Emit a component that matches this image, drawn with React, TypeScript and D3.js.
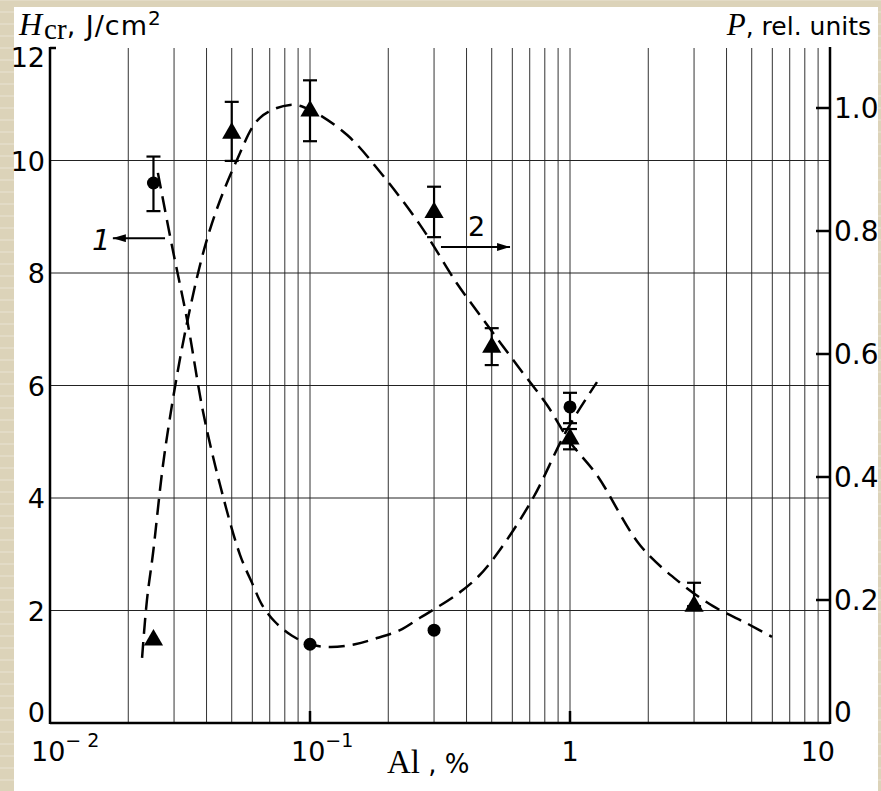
import React, { useEffect } from 'react'
import * as d3 from 'd3'

// curve 1: H_cr (left axis) vs Al content
const curve1Al = [0.026, 0.0294, 0.0337, 0.0388, 0.0451, 0.0538, 0.0604, 0.0654, 0.0733, 0.0853, 0.1, 0.1194, 0.149, 0.181, 0.222, 0.265, 0.297, 0.361, 0.443, 0.538, 0.721, 0.973, 1.27]
const curve1H = [9.78, 8.5, 7.16, 5.53, 4.23, 2.99, 2.45, 2.1, 1.8, 1.55, 1.4, 1.35, 1.4, 1.51, 1.65, 1.87, 2.01, 2.26, 2.6, 3.08, 4.0, 5.21, 6.06]

// curve 2: P (right axis) vs Al content
const curve2Al = [0.0226, 0.0236, 0.0249, 0.0277, 0.0337, 0.0412, 0.0523, 0.0642, 0.0838, 0.1, 0.139, 0.186, 0.265, 0.367, 0.451, 0.625, 0.816, 1.0, 1.27, 1.86, 2.65, 3.55, 4.84, 5.98]
const curve2P = [0.106, 0.2, 0.276, 0.444, 0.652, 0.802, 0.915, 0.984, 1.005, 0.997, 0.956, 0.896, 0.81, 0.715, 0.663, 0.582, 0.517, 0.457, 0.403, 0.289, 0.228, 0.19, 0.161, 0.14]

// measured points, series 1 (circles, H)
const circAl = [0.025, 0.1, 0.3, 1.0]
const circH = [9.6, 1.4, 1.65, 5.62]
const circLo = [9.1, null, null, 5.33]
const circHi = [10.07, null, null, 5.87]

// measured points, series 2 (triangles, P)
const triAl = [0.025, 0.05, 0.1, 0.3, 0.5, 1.0, 3.0]
const triP = [0.135, 0.959, 0.995, 0.83, 0.611, 0.462, 0.19]
const triLo = [null, 0.914, 0.946, 0.79, 0.582, 0.445, null]
const triHi = [null, 1.01, 1.045, 0.872, 0.642, 0.478, 0.228]

const leftTicks = [0, 2, 4, 6, 8, 10, 12]
const rightTicks = [0, 0.2, 0.4, 0.6, 0.8, 1.0]
const rightLabels = ['0', '0.2', '0.4', '0.6', '0.8', '1.0']
const bottomTicks = [0.01, 0.1, 1, 10]
const bottomLabels = [['10', '− 2'], ['10', '−1'], ['1', ''], ['10', '']]

const W = 881
const H = 791
const SANS = '"DejaVu Sans", Arial, sans-serif'
const SERIF = '"Liberation Serif", "Times New Roman", serif'

export default function App() {
  useEffect(() => {
    document.body.style.margin = '0'
  }, [])

  const x = d3.scaleLog().domain([0.01, 10]).range([50, 830])
  const yL = d3.scaleLinear().domain([0, 12]).range([723, 48])
  const yR = d3.scaleLinear().domain([0, 1]).range([723, 108])

  const line1 = d3.line<number>()
    .x((_, i) => x(curve1Al[i]))
    .y(d => yL(d))
    .curve(d3.curveCatmullRom.alpha(0.5))
  const line2 = d3.line<number>()
    .x((_, i) => x(curve2Al[i]))
    .y(d => yR(d))
    .curve(d3.curveCatmullRom.alpha(0.5))

  const vGrid = x.ticks().filter(v => v > 0.01 && v < 10)
  const hGrid = [2, 4, 6, 8, 10]
  const tri = d3.symbol(d3.symbolTriangle, 160)()

  const stripes = d3.range(0, H, 12)

  const errBar = (cx: number, lo: number, hi: number, key: string) => (
    <g key={key} stroke="#000" strokeWidth={2.2}>
      <line x1={cx} x2={cx} y1={lo} y2={hi} />
      <line x1={cx - 7} x2={cx + 7} y1={lo} y2={lo} />
      <line x1={cx - 7} x2={cx + 7} y1={hi} y2={hi} />
    </g>
  )

  return (
    <svg width={W} height={H} style={{ display: 'block' }}>
      <rect width={W} height={H} fill="#dcd3b9" />
      {stripes.map(s => (
        <line key={s} x1={0} x2={W} y1={s} y2={s} stroke="#e9e3d3" strokeWidth={1} />
      ))}
      <rect x={14} y={7} width={864} height={784} fill="#fff" />

      {/* grid */}
      {vGrid.map(v => (
        <line key={'v' + v} x1={x(v)} x2={x(v)} y1={yL(12)} y2={yL(0)} stroke="#333" strokeWidth={1} />
      ))}
      {hGrid.map(v => (
        <line key={'h' + v} x1={x(0.01)} x2={x(10)} y1={yL(v)} y2={yL(v)} stroke="#222" strokeWidth={1} />
      ))}

      {/* axes */}
      <g stroke="#000" strokeWidth={2.5} fill="none">
        <line x1={x(0.01)} x2={x(0.01)} y1={yL(12) - 1} y2={yL(0) + 1} />
        <line x1={x(10)} x2={x(10)} y1={yL(12) - 1} y2={yL(0) + 1} />
        <line x1={x(0.01)} x2={x(10)} y1={yL(0)} y2={yL(0)} />
        <line x1={x(0.01)} x2={x(0.01) + 6} y1={yL(12)} y2={yL(12)} />
        {[0.1, 1].map(v => (
          <line key={v} x1={x(v)} x2={x(v)} y1={yL(0)} y2={yL(0) - 12} />
        ))}
        {rightTicks.filter(v => v > 0).map(v => (
          <line key={'rt' + v} x1={x(10) - 14} x2={x(10)} y1={yR(v)} y2={yR(v)} />
        ))}
      </g>

      {/* tick labels */}
      <g fontFamily={SANS} fontSize={27} fill="#000">
        {leftTicks.map(v => (
          <text key={'l' + v} x={x(0.01) - 5} y={v === 0 ? yL(0) - 1 : v === 12 ? yL(12) + 19 : yL(v) + 10} textAnchor="end">{v}</text>
        ))}
        {rightTicks.map((v, i) => (
          <text key={'r' + v} x={x(10) + 4} y={v === 0 ? yR(0) - 1 : yR(v) + 10} fontSize={28}>{rightLabels[i]}</text>
        ))}
        {bottomTicks.map((v, i) => (
          <text key={'b' + v} x={i === 3 ? x(v) + 5 : x(v) - (bottomLabels[i][1] ? 19 : 0)} y={761} textAnchor={i === 3 ? 'end' : i === 2 ? 'middle' : 'start'}>
            {bottomLabels[i][0]}
            {bottomLabels[i][1] && <tspan dy={-14} fontSize={19}>{bottomLabels[i][1]}</tspan>}
          </text>
        ))}
      </g>

      {/* axis titles */}
      <text x={19} y={35} fill="#000">
        <tspan fontFamily={SERIF} fontStyle="italic" fontSize={32}>H</tspan>
        <tspan fontFamily={SERIF} fontSize={29} dy={4} dx={2}>cr</tspan>
        <tspan fontFamily={SANS} fontSize={27} dy={-4} letterSpacing={1}>, J/cm</tspan>
        <tspan fontFamily={SANS} fontSize={20} dy={-10}>2</tspan>
      </text>
      <text x={871} y={35} textAnchor="end" fill="#000">
        <tspan fontFamily={SERIF} fontStyle="italic" fontSize={31}>P</tspan>
        <tspan fontFamily={SANS} fontSize={25}>, rel. units</tspan>
      </text>
      <text x={387} y={773} fill="#000">
        <tspan fontFamily={SERIF} fontSize={33}>Al</tspan>
        <tspan fontFamily={SANS} fontSize={26}> , %</tspan>
      </text>

      {/* curves */}
      <path d={line1(curve1H) ?? ''} fill="none" stroke="#000" strokeWidth={2.5} strokeDasharray="16 8" />
      <path d={line2(curve2P) ?? ''} fill="none" stroke="#000" strokeWidth={2.5} strokeDasharray="16 8" />

      {/* error bars + markers */}
      {circAl.map((a, i) => circLo[i] != null ? errBar(x(a), yL(circLo[i] as number), yL(circHi[i] as number), 'ce' + i) : null)}
      {triAl.map((a, i) => (triLo[i] != null || triHi[i] != null)
        ? errBar(x(a), yR((triLo[i] ?? triP[i]) as number), yR((triHi[i] ?? triP[i]) as number), 'te' + i) : null)}
      {circAl.map((a, i) => (
        <circle key={'c' + i} cx={x(a)} cy={yL(circH[i])} r={6.5} fill="#000" />
      ))}
      {triAl.map((a, i) => (
        <path key={'t' + i} d={tri ?? ''} transform={`translate(${x(a)},${yR(triP[i])})`} fill="#000" />
      ))}

      {/* annotations */}
      <defs>
        <marker id="arr" viewBox="0 0 13 8" refX={13} refY={4} markerWidth={13} markerHeight={8} markerUnits="userSpaceOnUse" orient="auto">
          <path d="M0,0 L13,4 L0,8 Z" fill="#000" />
        </marker>
      </defs>
      <line x1={x(0.0277)} x2={x(0.01745)} y1={yL(8.62)} y2={yL(8.62)} stroke="#000" strokeWidth={2} markerEnd="url(#arr)" />
      <text x={x(0.0145)} y={yL(8.41)} fontFamily={SANS} fontStyle="italic" fontSize={29}>1</text>
      <line x1={x(0.319)} x2={x(0.588)} y1={yR(0.774)} y2={yR(0.774)} stroke="#000" strokeWidth={2} markerEnd="url(#arr)" />
      <text x={x(0.405)} y={yR(0.792)} fontFamily={SANS} fontSize={27}>2</text>
    </svg>
  )
}
